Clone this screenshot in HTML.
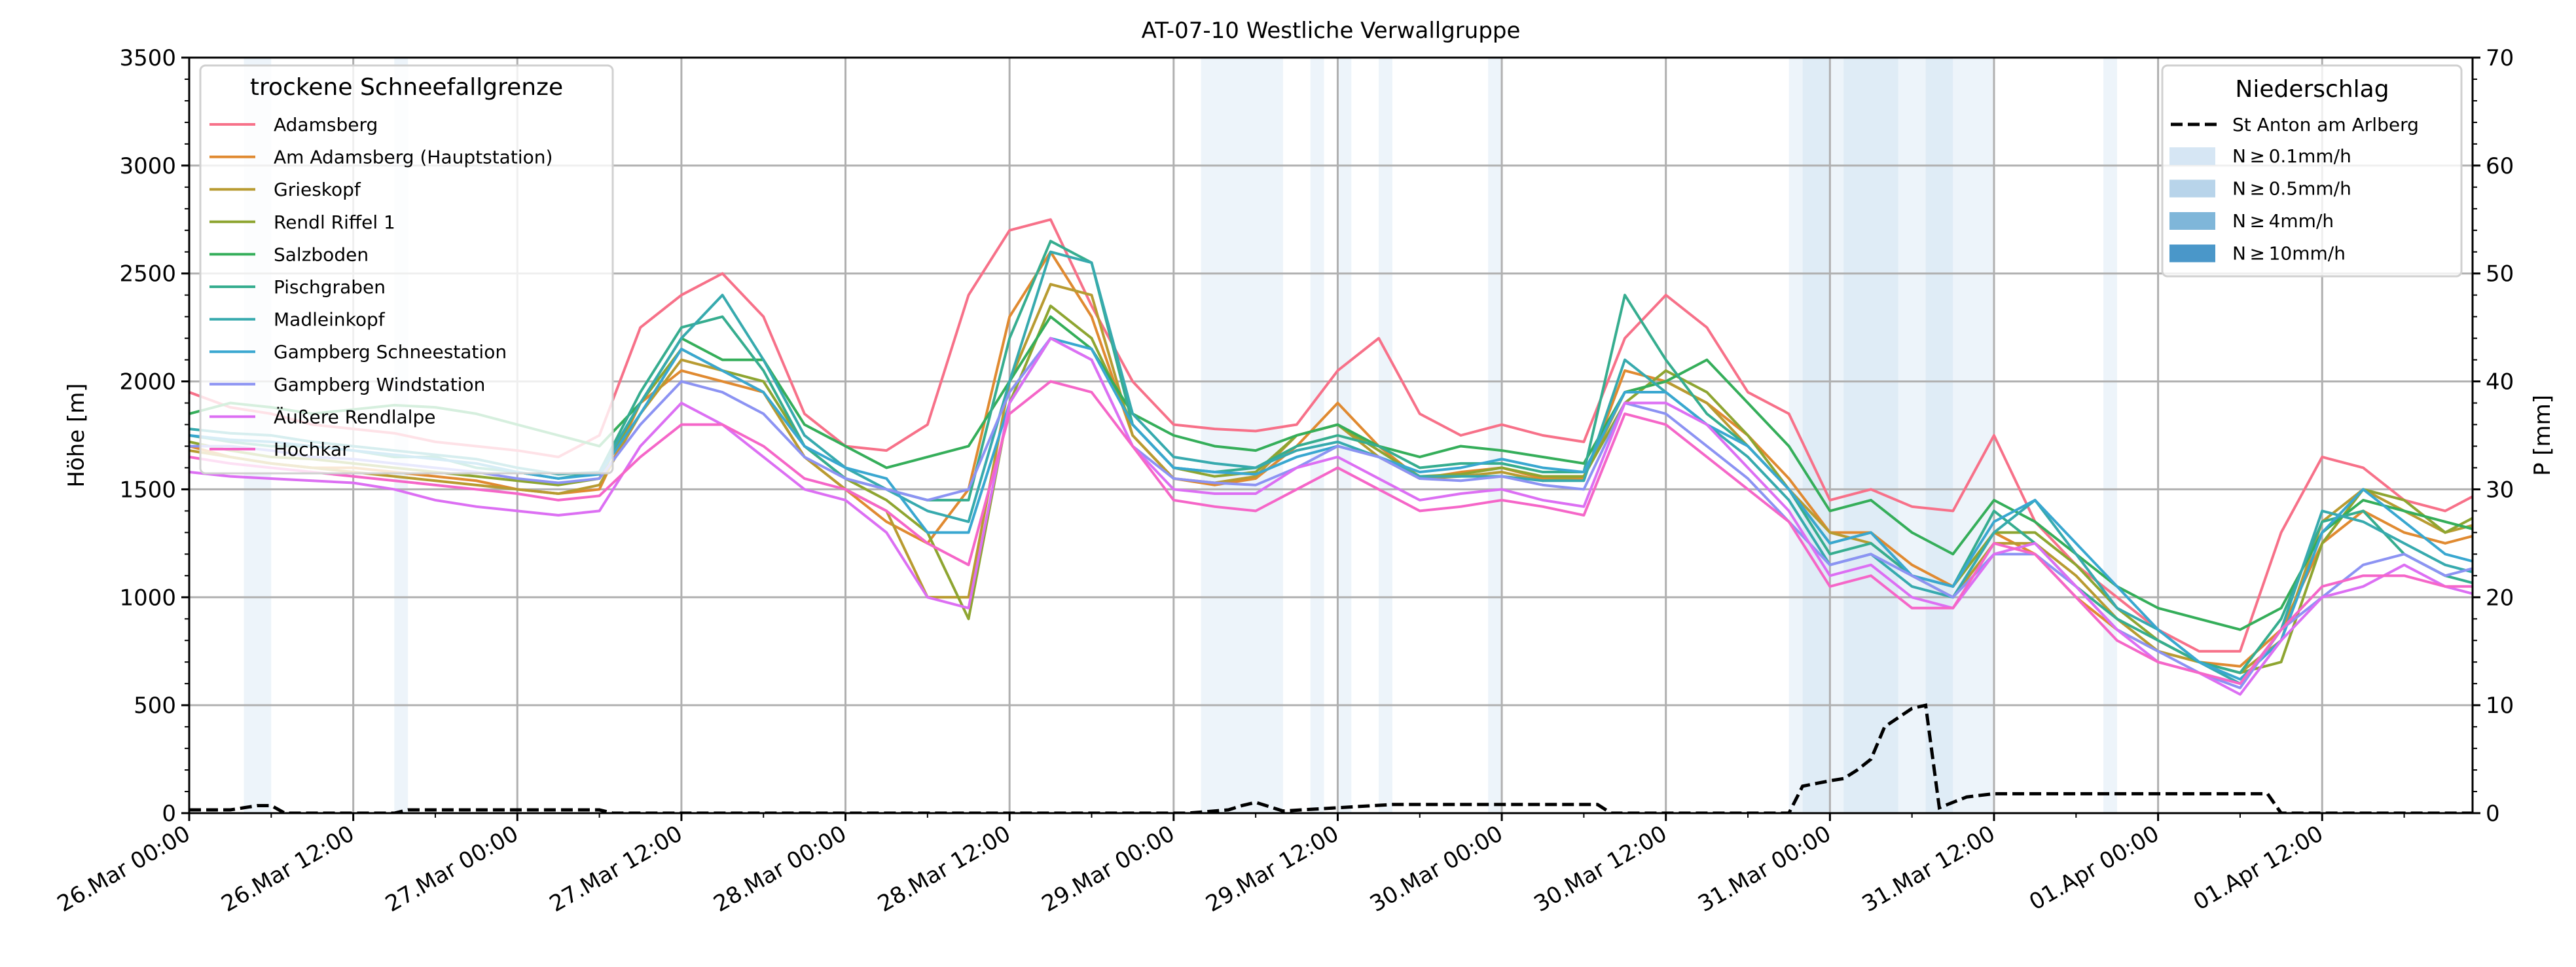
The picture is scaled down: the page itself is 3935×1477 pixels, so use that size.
<!DOCTYPE html>
<html><head><meta charset="utf-8"><style>
html,body{margin:0;padding:0;background:#fff;}
svg{display:block;font-family:"DejaVu Sans","Liberation Sans",sans-serif;}
</style></head><body>
<svg id="chart" width="3935" height="1477" viewBox="0 0 3935 1477" xmlns="http://www.w3.org/2000/svg">
<defs><clipPath id="clip"><rect x="289" y="88" width="3488" height="1154"/></clipPath></defs>
<rect width="3935" height="1477" fill="#fff"/>
<text x="2033" y="58" font-size="34" text-anchor="middle">AT-07-10 Westliche Verwallgruppe</text>
<g id="bands" clip-path="url(#clip)"></g>
<g id="grid"></g>
<g id="lines" clip-path="url(#clip)"></g>
<g id="axes"></g>
<g id="legends"></g>
</svg>
<script>
const hours=[];for(let h=0;h<=168;h+=3)hours.push(h);
const seriesNames=["Adamsberg","Am Adamsberg (Hauptstation)","Grieskopf","Rendl Riffel 1","Salzboden","Pischgraben","Madleinkopf","Gampberg Schneestation","Gampberg Windstation","Äußere Rendlalpe","Hochkar"];
const seriesColors=["#f77189","#e08a31","#b89b31","#8ea531","#35ae5a","#36ad8f","#37aaae","#39a7d0","#8c93f3","#dc6ff3","#f566c8"];
const adamsberg=[1950,1880,1850,1800,1780,1760,1720,1700,1680,1650,1750,2250,2400,2500,2300,1850,1700,1680,1800,2400,2700,2750,2350,2000,1800,1780,1770,1800,2050,2200,1850,1750,1800,1750,1720,2200,2400,2250,1950,1850,1450,1500,1420,1400,1750,1350,1150,1000,850,750,750,1300,1650,1600,1450,1400,1500];
const amAdamsberg=[1700,1650,1620,1600,1600,1580,1560,1540,1500,1480,1500,1900,2050,2000,1950,1650,1500,1350,1250,1500,2300,2600,2300,1750,1550,1520,1550,1700,1900,1700,1550,1580,1600,1550,1550,2050,2000,1900,1750,1550,1300,1300,1150,1050,1300,1200,1000,850,750,700,680,850,1250,1400,1300,1250,1300];
const grieskopf=[1680,1650,1620,1600,1580,1560,1540,1520,1500,1480,1520,1850,2100,2050,1950,1650,1500,1400,1000,1000,2000,2450,2400,1750,1550,1530,1560,1750,1800,1650,1550,1560,1580,1540,1560,1950,2000,1900,1700,1500,1300,1250,1100,1000,1250,1250,1100,900,750,700,650,800,1350,1500,1400,1300,1350];
const rendlRiffel=[1720,1680,1650,1640,1620,1600,1580,1560,1540,1520,1550,1900,2150,2050,2000,1700,1550,1450,1300,900,1900,2350,2200,1800,1600,1560,1580,1750,1800,1680,1560,1570,1600,1560,1560,1900,2050,1950,1750,1500,1250,1300,1100,1050,1300,1300,1150,950,800,700,650,700,1250,1500,1450,1300,1400];
const salzboden=[1850,1900,1880,1850,1870,1890,1880,1850,1800,1750,1700,1900,2200,2100,2100,1800,1700,1600,1650,1700,2000,2300,2150,1850,1750,1700,1680,1750,1800,1700,1650,1700,1680,1650,1620,1950,2000,2100,1900,1700,1400,1450,1300,1200,1450,1350,1200,1050,950,900,850,950,1300,1450,1400,1350,1300];
const pischgraben=[1750,1720,1700,1700,1680,1650,1650,1600,1580,1550,1580,1950,2250,2300,2050,1700,1550,1500,1450,1450,2200,2650,2550,1800,1600,1580,1600,1700,1750,1700,1600,1620,1620,1580,1580,2400,2100,1850,1700,1500,1200,1250,1100,1050,1400,1250,1050,900,800,700,650,900,1350,1400,1200,1100,1050];
const madleinkopf=[1780,1760,1750,1720,1700,1680,1660,1640,1600,1570,1580,1900,2200,2400,2100,1750,1600,1500,1400,1350,2000,2600,2550,1850,1650,1620,1600,1680,1720,1650,1560,1560,1560,1540,1540,2100,1950,1800,1650,1450,1150,1200,1050,1000,1300,1450,1200,950,850,700,600,850,1400,1350,1250,1150,1100];
const gampSchnee=[1750,1730,1720,1700,1680,1660,1640,1620,1580,1550,1570,1850,2150,2050,1950,1700,1600,1550,1300,1300,1900,2200,2150,1800,1600,1580,1570,1650,1700,1650,1580,1600,1640,1600,1580,1950,1950,1800,1700,1500,1250,1300,1100,1050,1350,1450,1250,1050,850,700,620,800,1300,1500,1350,1200,1150];
const gampWind=[1700,1700,1680,1650,1640,1620,1600,1580,1550,1530,1550,1800,2000,1950,1850,1650,1550,1500,1450,1500,1950,2200,2100,1700,1550,1530,1520,1600,1700,1650,1550,1540,1560,1520,1500,1900,1850,1700,1550,1350,1150,1200,1100,1000,1200,1200,1050,850,750,650,580,850,1000,1150,1200,1100,1150];
const aussereRendlalpe=[1580,1560,1550,1540,1530,1500,1450,1420,1400,1380,1400,1700,1900,1800,1650,1500,1450,1300,1000,950,1900,2200,2100,1700,1500,1480,1480,1600,1650,1550,1450,1480,1500,1450,1420,1900,1900,1800,1600,1400,1100,1150,1000,950,1200,1250,1050,850,700,650,550,800,1000,1050,1150,1050,1000];
const hochkar=[1650,1620,1600,1580,1560,1540,1520,1500,1480,1450,1470,1650,1800,1800,1700,1550,1500,1400,1250,1150,1850,2000,1950,1700,1450,1420,1400,1500,1600,1500,1400,1420,1450,1420,1380,1850,1800,1650,1500,1350,1050,1100,950,950,1250,1200,1000,800,700,650,600,850,1050,1100,1100,1050,1050];
const seriesValues=[adamsberg,amAdamsberg,grieskopf,rendlRiffel,salzboden,pischgraben,madleinkopf,gampSchnee,gampWind,aussereRendlalpe,hochkar];
const precipHours=[0,3,4,5,6,7,15,16,30,31,73,76,77,78,79,80,84,88,103,104,117,118,120,121,122,123,124,126,127,128,130,132,152,153,167];
const precipValues=[0.3,0.3,0.5,0.7,0.7,0,0,0.3,0.3,0,0,0.3,0.7,1,0.6,0.2,0.5,0.8,0.8,0,0,2.5,3,3.2,4,5,8,9.7,10,0.5,1.5,1.8,1.8,0,0];
const bandStart=[4,15,74,82,84,87,95,117,118,120,121,125,127,129,140];
const bandEnd=[6,16,80,83,85,88,96,118,120,121,125,127,129,132,141];
const bandLevel=[0,0,0,0,0,0,0,0,1,0,1,0,1,0,0];
const yTicks=[0,500,1000,1500,2000,2500,3000,3500];
const y2Ticks=[0,10,20,30,40,50,60,70];
const xTickHours=[0,12,24,36,48,60,72,84,96,108,120,132,144,156];
const xTickLabels=["26.Mar 00:00","26.Mar 12:00","27.Mar 00:00","27.Mar 12:00","28.Mar 00:00","28.Mar 12:00","29.Mar 00:00","29.Mar 12:00","30.Mar 00:00","30.Mar 12:00","31.Mar 00:00","31.Mar 12:00","01.Apr 00:00","01.Apr 12:00"];
const levelColors=["#d6e6f4","#b8d4ea","#7fb6d9","#4a97c9"];
const levelLabels=["N\u2009≥\u20090.1mm/h","N\u2009≥\u20090.5mm/h","N\u2009≥\u20094mm/h","N\u2009≥\u200910mm/h"];

const L=289,R=3777,T=88,B=1242,HMAX=167;
const X=h=>L+(h/HMAX)*(R-L);
const Y=v=>B-(v/3500)*(B-T);
const Y2=v=>B-(v/70)*(B-T);
const NS="http://www.w3.org/2000/svg";
function mk(tag,attrs,parent){const e=document.createElementNS(NS,tag);for(const k in attrs)e.setAttribute(k,attrs[k]);parent.appendChild(e);return e;}
const gB=document.getElementById('bands'),gG=document.getElementById('grid'),gL=document.getElementById('lines'),gA=document.getElementById('axes'),gLeg=document.getElementById('legends');

bandStart.forEach((s,i)=>{
  const r=mk('rect',{x:X(s),y:T,width:X(bandEnd[i])-X(s),height:B-T,fill:levelColors[bandLevel[i]],'fill-opacity':0.45},gB);
  
  
});
xTickHours.forEach(h=>{const l=mk('line',{x1:X(h),x2:X(h),y1:T,y2:B,stroke:'#b0b0b0','stroke-width':3},gG);});
yTicks.forEach(v=>{const l=mk('line',{x1:L,x2:R,y1:Y(v),y2:Y(v),stroke:'#b0b0b0','stroke-width':3},gG);});

seriesValues.forEach((vals,i)=>{
  const p=mk('polyline',{points:vals.map((v,j)=>X(hours[j])+','+Y(v)).join(' '),fill:'none',stroke:seriesColors[i],'stroke-width':4,'stroke-linejoin':'round'},gL);
  
  
});
const pl=mk('polyline',{points:precipHours.map((h,j)=>X(h)+','+Y2(precipValues[j])).join(' '),fill:'none',stroke:'#000','stroke-width':5,'stroke-dasharray':'18,8'},gL);



// axes frame
const fr=mk('rect',{x:L,y:T,width:R-L,height:B-T,fill:'none',stroke:'#000','stroke-width':3},gA);


yTicks.forEach(v=>{
  mk('line',{x1:L-12,x2:L,y1:Y(v),y2:Y(v),stroke:'#000','stroke-width':3},gA);
  const t=mk('text',{x:L-20,y:Y(v)+12,'font-size':34,'text-anchor':'end'},gA);t.textContent=v;
  
});
for(let v=0;v<=3500;v+=100){if(v%500)mk('line',{x1:L-7,x2:L,y1:Y(v),y2:Y(v),stroke:'#000','stroke-width':2},gA);}
y2Ticks.forEach(v=>{
  mk('line',{x1:R,x2:R+12,y1:Y2(v),y2:Y2(v),stroke:'#000','stroke-width':3},gA);
  const t=mk('text',{x:R+20,y:Y2(v)+12,'font-size':34,'text-anchor':'start'},gA);t.textContent=v;
  
});
for(let v=0;v<=70;v+=2){if(v%10)mk('line',{x1:R,x2:R+7,y1:Y2(v),y2:Y2(v),stroke:'#000','stroke-width':2},gA);}
xTickHours.forEach((h,i)=>{
  mk('line',{x1:X(h),x2:X(h),y1:B,y2:B+12,stroke:'#000','stroke-width':3},gA);
  mk('line',{x1:X(h+6),x2:X(h+6),y1:B,y2:B+7,stroke:'#000','stroke-width':2},gA);
  const t=mk('text',{x:X(h)+4,y:B+38,'font-size':34,'text-anchor':'end',transform:'rotate(-30 '+(X(h)+4)+' '+(B+38)+')'},gA);
  t.textContent=xTickLabels[i];
  
});
const yl=mk('text',{x:128,y:(T+B)/2,'font-size':34,'text-anchor':'middle',transform:'rotate(-90 128 '+((T+B)/2)+')'},gA);yl.textContent='Höhe [m]';

const y2l=mk('text',{x:3895,y:(T+B)/2,'font-size':34,'text-anchor':'middle',transform:'rotate(-90 3895 '+((T+B)/2)+')'},gA);y2l.textContent='P [mm]';


// left legend
const lg=mk('g',{},gLeg);
mk('rect',{x:306,y:100,width:630,height:623,rx:8,fill:'#fff','fill-opacity':0.8,stroke:'#d0d0d0','stroke-width':3},lg);
const lt=mk('text',{x:621,y:145,'font-size':36,'text-anchor':'middle'},lg);lt.textContent='trockene Schneefallgrenze';

seriesNames.forEach((n,i)=>{
  const yy=190+i*49.6;
  const e=mk('g',{},lg);
  mk('line',{x1:320,x2:390,y1:yy,y2:yy,stroke:seriesColors[i],'stroke-width':4},e);
  const t=mk('text',{x:418,y:yy+10,'font-size':28},e);t.textContent=n;
});
// right legend
const rg=mk('g',{},gLeg);
mk('rect',{x:3303,y:100,width:457,height:322,rx:8,fill:'#fff','fill-opacity':0.8,stroke:'#d0d0d0','stroke-width':3},rg);
const rt=mk('text',{x:3532,y:148,'font-size':36,'text-anchor':'middle'},rg);rt.textContent='Niederschlag';

const e0=mk('g',{},rg);
mk('line',{x1:3316,x2:3390,y1:190,y2:190,stroke:'#000','stroke-width':5,'stroke-dasharray':'18,8'},e0);
const t0=mk('text',{x:3410,y:200,'font-size':28},e0);t0.textContent='St Anton am Arlberg';
levelLabels.forEach((lab,i)=>{
  const yy=238+i*49.5;
  const e=mk('g',{},rg);
  mk('rect',{x:3314,y:yy-13,width:70,height:27,fill:levelColors[i]},e);
  const t=mk('text',{x:3410,y:yy+10,'font-size':28},e);t.textContent=lab;
});
</script>
</body></html>
